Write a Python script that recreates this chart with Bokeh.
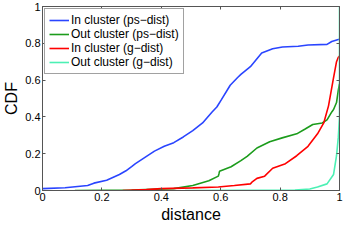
from bokeh.plotting import figure
from bokeh.models import Range1d, FixedTicker, LinearAxis, CustomJSTickFormatter
from bokeh.embed import file_html
from bokeh.resources import INLINE

# ---- data ----
tick_values = [0, 0.2, 0.4, 0.6, 0.8, 1.0]

in_ps_x = [0.0, 0.076, 0.152, 0.173, 0.216, 0.259, 0.281, 0.30, 0.313, 0.345, 0.377, 0.41,
           0.442, 0.474, 0.506, 0.539, 0.571, 0.587, 0.603, 0.632, 0.657, 0.668, 0.70, 0.738,
           0.775, 0.808, 0.861, 0.894, 0.958, 0.974, 0.996, 1.0]
in_ps_y = [0.01, 0.015, 0.027, 0.04, 0.056, 0.087, 0.107, 0.13, 0.146, 0.18, 0.214, 0.24,
           0.26, 0.291, 0.325, 0.367, 0.427, 0.454, 0.495, 0.572, 0.614, 0.631, 0.673, 0.747,
           0.77, 0.78, 0.784, 0.791, 0.794, 0.81, 0.821, 0.822]

out_ps_x = [0.109, 0.30, 0.442, 0.506, 0.56, 0.592, 0.594, 0.596, 0.635, 0.668, 0.689, 0.722,
            0.765, 0.807, 0.856, 0.883, 0.91, 0.942, 0.958, 0.974, 0.98, 0.99, 0.996, 1.0]
out_ps_y = [0.0, 0.003, 0.01, 0.027, 0.053, 0.078, 0.09, 0.104, 0.129, 0.162, 0.185, 0.231,
            0.265, 0.286, 0.308, 0.333, 0.359, 0.367, 0.384, 0.427, 0.44, 0.478, 0.546, 0.58]

in_g_x = [0.27, 0.35, 0.399, 0.506, 0.592, 0.646, 0.70, 0.705, 0.722, 0.748, 0.775, 0.818,
          0.856, 0.894, 0.926, 0.947, 0.963, 0.98, 0.99, 0.996, 1.0]
in_g_y = [0.0, 0.005, 0.01, 0.014, 0.019, 0.027, 0.036, 0.045, 0.066, 0.078, 0.121, 0.146,
          0.189, 0.24, 0.308, 0.367, 0.46, 0.614, 0.70, 0.724, 0.73]

out_g_x = [0.48, 0.85, 0.90, 0.926, 0.958, 0.98, 0.99, 0.996, 1.0, 1.0]
out_g_y = [0.0, 0.002, 0.008, 0.019, 0.036, 0.087, 0.189, 0.29, 0.40, 1.0]

labels = ["In cluster (ps\u2212dist)", "Out cluster (ps\u2212dist)",
          "In cluster (g\u2212dist)", "Out cluster (g\u2212dist)"]
colors = ["#2a45ff", "#1c9c1c", "#ff0000", "#4cf0b4"]

FONT = "Liberation Sans"
AX = "#555555"

p = figure(width=344, height=225, x_range=Range1d(0, 1), y_range=Range1d(0, 1),
           output_backend="svg", toolbar_location=None,
           min_border_left=36, min_border_right=5, min_border_top=6, min_border_bottom=30)
p.background_fill_color = "white"
p.border_fill_color = "white"
p.outline_line_color = AX
p.outline_line_width = 1
p.xgrid.visible = False
p.ygrid.visible = False

fmt = CustomJSTickFormatter(code="return String(Math.round(tick*10)/10);")

for ax in (p.xaxis[0], p.yaxis[0]):
    ax.ticker = FixedTicker(ticks=tick_values)
    ax.formatter = fmt
    ax.major_tick_in = 3
    ax.major_tick_out = 0
    ax.minor_tick_line_color = None
    ax.axis_line_color = AX
    ax.major_tick_line_color = AX
    ax.major_label_text_font = FONT
    ax.major_label_text_font_size = "11px"
    ax.major_label_text_color = "black"
    ax.major_label_standoff = 2
    ax.axis_label_text_font = FONT
    ax.axis_label_text_font_size = "16px"
    ax.axis_label_text_font_style = "normal"
    ax.axis_label_text_color = "black"
    ax.axis_label_standoff = 2

p.xaxis.axis_label = "distance"
p.yaxis.axis_label = "CDF"

for side in ("above", "right"):
    a = LinearAxis(ticker=FixedTicker(ticks=tick_values))
    a.major_tick_in = 3
    a.major_tick_out = 0
    a.minor_tick_line_color = None
    a.axis_line_color = AX
    a.major_tick_line_color = AX
    a.major_label_text_font_size = "0px"
    a.major_label_text_color = None
    a.major_label_standoff = 0
    p.add_layout(a, side)

series = [(in_ps_x, in_ps_y), (out_ps_x, out_ps_y), (in_g_x, in_g_y), (out_g_x, out_g_y)]
for (xs, ys), lab, col in zip(series, labels, colors):
    p.line(xs, ys, line_color=col, line_width=1.6, legend_label=lab)

lg = p.legend[0]
lg.location = "top_left"
lg.margin = 2
lg.padding = 4
lg.spacing = 0
lg.glyph_width = 20
lg.glyph_height = 14
lg.label_height = 14
lg.label_standoff = 2
lg.label_text_font = FONT
lg.label_text_font_size = "12px"
lg.label_text_color = "black"
lg.border_line_color = "#444444"
lg.border_line_width = 1
lg.background_fill_color = "white"
lg.background_fill_alpha = 1.0

open("out.html", "w").write(file_html(p, INLINE))
